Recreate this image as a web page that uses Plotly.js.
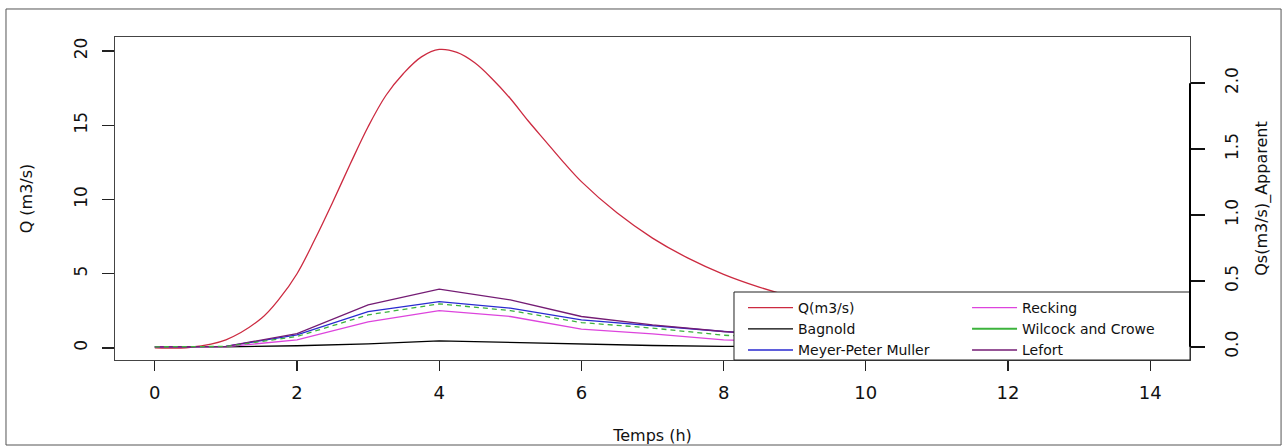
<!DOCTYPE html>
<html>
<head>
<meta charset="utf-8">
<script src="https://cdn.plot.ly/plotly-3.0.1.min.js"></script>
<style>
html,body{margin:0;padding:0;background:#fff;}
#chart{width:1287px;height:448px;}
</style>
</head>
<body>
<div id="chart"></div>
<script>
// Discharge Q (m3/s)
const tQ = [0,0.5,1,1.5,1.75,2,2.25,2.5,2.75,3,3.25,3.5,3.75,4,4.25,4.5,4.75,5,5.25,5.5,5.75,6,6.5,7,7.5,8,8.5,9,10,11,12,13,14];
const Q  = [0,0.05,0.55,2.0,3.3,5.0,7.3,9.8,12.4,14.9,17.0,18.5,19.6,20.1,19.9,19.2,18.1,16.8,15.3,13.9,12.5,11.2,9.1,7.4,6.05,4.96,4.1,3.4,2.3,1.6,1.1,0.8,0.55];

// Sediment discharge Qs (m3/s) apparent, hourly
const tS = [0,1,2,3,4,5,6,7,8,9,10,11,12,13,14];
const bagnold = [0,0,0.008,0.023,0.045,0.033,0.023,0.01,0.004,0.003,0.002,0.001,0.001,0,0];
const mpm     = [0,0.004,0.09,0.267,0.343,0.293,0.205,0.162,0.116,0.08,0.06,0.045,0.034,0.025,0.018];
const recking = [0,0.001,0.053,0.19,0.275,0.23,0.134,0.098,0.053,0.035,0.025,0.018,0.012,0.008,0.005];
const wilcock = [0,0.003,0.078,0.242,0.326,0.275,0.184,0.142,0.088,0.06,0.045,0.033,0.024,0.017,0.012];
const lefort  = [0,0.004,0.1,0.318,0.437,0.356,0.23,0.167,0.116,0.08,0.06,0.045,0.034,0.025,0.018];

const names = ["Q(m3/s)","Bagnold","Meyer-Peter Muller","Recking","Wilcock and Crowe","Lefort"];
const colors = {q:"#cc2a40", bag:"#000000", mpm:"#2a2ad0", rec:"#dd44dd", wc:"#3cb33c", lef:"#741c74"};

const lw = 1.3;
const traces = [
  {x:tQ, y:Q, name:names[0], type:"scatter", mode:"lines", line:{color:colors.q, width:lw, shape:"spline", smoothing:1}, yaxis:"y", legend:"legend", legendrank:1},
  {x:tS, y:bagnold, name:names[1], type:"scatter", mode:"lines", line:{color:colors.bag, width:lw}, yaxis:"y2", legend:"legend", legendrank:2},
  {x:tS, y:mpm, name:names[2], type:"scatter", mode:"lines", line:{color:colors.mpm, width:lw}, yaxis:"y2", legend:"legend", legendrank:3},
  {x:tS, y:recking, name:names[3], type:"scatter", mode:"lines", line:{color:colors.rec, width:lw}, yaxis:"y2", legend:"legend2", legendrank:4},
  {x:[null], y:[null], name:names[4], type:"scatter", mode:"lines", line:{color:colors.wc, width:2}, yaxis:"y2", legend:"legend2", legendrank:5},
  {x:tS, y:lefort, name:names[5], type:"scatter", mode:"lines", line:{color:colors.lef, width:lw}, yaxis:"y2", legend:"legend2", legendrank:6},
  {x:tS, y:wilcock, name:names[4], type:"scatter", mode:"lines", line:{color:colors.wc, width:lw, dash:"5px,4px"}, yaxis:"y2", showlegend:false}
];

const font = "DejaVu Sans, Verdana, sans-serif";
const legendBase = {
  orientation:"v", yanchor:"top", y:0.2105, xanchor:"left",
  bgcolor:"rgba(0,0,0,0)", borderwidth:0,
  font:{family:font, size:14, color:"#111"},
  traceorder:"normal", itemwidth:45
};
const layout = {
  width:1287, height:448,
  margin:{l:115, r:97, t:37, b:88},
  paper_bgcolor:"#fff", plot_bgcolor:"#fff",
  font:{family:font, color:"#111", size:16},
  showlegend:true,
  legend:Object.assign({}, legendBase, {x:0.5842}),
  legend2:Object.assign({}, legendBase, {x:0.7926}),
  xaxis:{
    range:[-0.56,14.56], tickvals:[0,2,4,6,8,10,12,14], ticktext:["0","2","4","6","8","10","12","14"],
    showgrid:false, zeroline:false, showline:true, mirror:true, linecolor:"#444", linewidth:1,
    ticks:"outside", ticklen:10, tickcolor:"#222", tickwidth:1.2,
    tickfont:{size:18}, ticklabelstandoff:6,
    title:{text:"Temps (h)", font:{size:16}, standoff:28}
  },
  yaxis:{
    range:[-0.81,20.94], tickvals:[0,5,10,15,20], ticktext:["0","5","10","15","20"],
    showgrid:false, zeroline:false, showline:true, mirror:true, linecolor:"#444", linewidth:1,
    ticks:"outside", ticklen:12, tickcolor:"#222", tickwidth:1.2,
    tickangle:-90, tickfont:{size:17}, ticklabelstandoff:8,
    title:{text:"Q (m3/s)", font:{size:16}, standoff:34}
  },
  yaxis2:{
    overlaying:"y", side:"right", range:[-0.1,2.35],
    tickvals:[0,0.5,1,1.5,2], ticktext:["0.0","0.5","1.0","1.5","2.0"],
    showgrid:false, zeroline:false, showline:false,
    ticks:"outside", ticklen:14, tickcolor:"#111", tickwidth:1.5,
    tickangle:-90, tickfont:{size:17}, ticklabelstandoff:13,
    title:{text:"Qs(m3/s)_Apparent", font:{size:16}, standoff:14}
  },
  shapes:[
    {type:"rect", xref:"paper", yref:"paper", x0:0.5758, x1:1, y0:0, y1:0.2105, line:{color:"#222", width:1}, fillcolor:"#fff", layer:"above"},
    {type:"line", xref:"paper", yref:"y2", x0:1, x1:1, y0:0, y1:2, line:{color:"#000", width:2}},
    {type:"rect", xref:"paper", yref:"paper", x0:-0.1014, x1:1.0847, y0:-0.2632, y1:1.0867, line:{color:"#555", width:1}, fillcolor:"rgba(0,0,0,0)", layer:"below"}
  ]
};

Plotly.newPlot("chart", traces, layout, {staticPlot:true, displayModeBar:false});
</script>
</body>
</html>
